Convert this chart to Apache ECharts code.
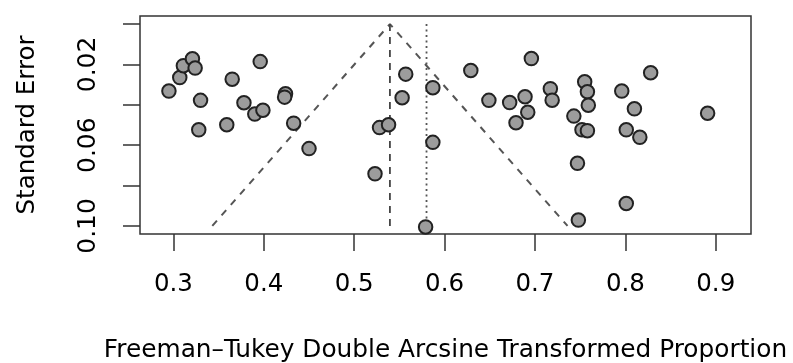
<!DOCTYPE html>
<html>
<head>
<meta charset="utf-8">
<script src="https://cdn.jsdelivr.net/npm/echarts@6/dist/echarts.min.js"></script>
<style>
  html, body { margin: 0; padding: 0; background: #fff; }
  #chart { width: 793px; height: 363px; }
</style>
</head>
<body>
<div id="chart"></div>
<script>
// transformed proportion of each study
var studyX = [
  0.295, 0.307, 0.311, 0.321, 0.324, 0.330, 0.328, 0.365, 0.396, 0.359,
  0.378, 0.390, 0.399, 0.424, 0.423, 0.433, 0.450, 0.523, 0.528, 0.538,
  0.557, 0.553, 0.587, 0.587, 0.579, 0.629, 0.649, 0.672, 0.679, 0.689,
  0.692, 0.696, 0.717, 0.719, 0.743, 0.747, 0.748, 0.752, 0.758, 0.755,
  0.758, 0.759, 0.796, 0.801, 0.801, 0.810, 0.816, 0.828, 0.891
]
// standard error of each study
var studySE = [
  0.0332, 0.0265, 0.0206, 0.0172, 0.0218, 0.0378, 0.0524, 0.0273, 0.0186, 0.0499,
  0.0390, 0.0446, 0.0427, 0.0345, 0.0362, 0.0491, 0.0617, 0.0742, 0.0513, 0.0499,
  0.0248, 0.0365, 0.0315, 0.0586, 0.1005, 0.0230, 0.0378, 0.0389, 0.0489, 0.0360,
  0.0437, 0.0171, 0.0320, 0.0377, 0.0456, 0.0690, 0.0971, 0.0524, 0.0528, 0.0286,
  0.0335, 0.0402, 0.0332, 0.0524, 0.0889, 0.0420, 0.0561, 0.0241, 0.0442
]
// funnel (pseudo confidence limits) and summary lines
var funnelX = [0.343, 0.5395, 0.736]
var funnelY = [0.10, 0.0, 0.10]
var fixedX = [0.5395, 0.5395]
var randomX = [0.580, 0.580]
var summaryY = [0.0, 0.10]
// tick values
var xTicks = [0.3, 0.4, 0.5, 0.6, 0.7, 0.8, 0.9]
var yTicks = [0.00, 0.02, 0.04, 0.06, 0.08, 0.10]
var yLabels = [0.02, 0.06, 0.10]

function pairs(xs, ys) {
  return xs.map(function (x, i) { return [x, ys[i]] })
}

var myChart = echarts.init(document.getElementById('chart'))
var font = 'DejaVu Sans'

myChart.setOption({
  backgroundColor: '#fff',
  animation: false,
  grid: {
    left: 140, right: 42, top: 16, bottom: 129,
    show: true,
    borderColor: '#333',
    borderWidth: 1.5,
    outerBoundsMode: 'none'
  },
  xAxis: {
    type: 'value',
    min: 0.263,
    max: 0.939,
    position: 'bottom',
    name: 'Freeman\u2013Tukey Double Arcsine Transformed Proportion',
    nameLocation: 'middle',
    nameGap: 104,
    nameTextStyle: { fontFamily: font, fontSize: 24.8, color: '#000' },
    axisLine: { show: false, onZero: false },
    splitLine: { show: false },
    axisTick: {
      show: true, length: 17, inside: false,
      customValues: xTicks,
      lineStyle: { color: '#333', width: 1.5 }
    },
    axisLabel: {
      customValues: xTicks,
      margin: 38,
      fontFamily: font, fontSize: 24.5, color: '#000',
      formatter: function (v) { return v.toFixed(1) }
    }
  },
  yAxis: {
    type: 'value',
    inverse: true,
    min: -0.004,
    max: 0.104,
    name: 'Standard Error',
    nameLocation: 'middle',
    nameRotate: 90,
    nameGap: 100,
    nameTextStyle: { fontFamily: font, fontSize: 24.5, color: '#000' },
    axisLine: { show: false, onZero: false },
    splitLine: { show: false },
    axisTick: {
      show: true, length: 17, inside: false,
      customValues: yTicks,
      lineStyle: { color: '#333', width: 1.5 }
    },
    axisLabel: {
      customValues: yLabels,
      rotate: 90,
      margin: 39,
      fontFamily: font, fontSize: 25, color: '#000',
      formatter: function (v) { return v.toFixed(2) }
    }
  },
  series: [
    {
      name: 'funnel',
      type: 'line',
      data: pairs(funnelX, funnelY),
      showSymbol: false,
      silent: true,
      lineStyle: { color: '#555', width: 2, type: [7, 7] },
      z: 1
    },
    {
      name: 'fixed',
      type: 'line',
      data: pairs(fixedX, summaryY),
      showSymbol: false,
      silent: true,
      lineStyle: { color: '#444', width: 1.8, type: [7, 6] },
      z: 1
    },
    {
      name: 'random',
      type: 'line',
      data: pairs(randomX, summaryY),
      showSymbol: false,
      silent: true,
      lineStyle: { color: '#555', width: 1.8, type: [2, 3.5] },
      z: 1
    },
    {
      name: 'studies',
      type: 'scatter',
      data: pairs(studyX, studySE),
      symbol: 'circle',
      symbolSize: 13.5,
      clip: false,
      itemStyle: { color: '#9c9c9c', borderColor: '#222', borderWidth: 2, opacity: 1 },
      z: 3
    }
  ]
})
</script>
</body>
</html>
